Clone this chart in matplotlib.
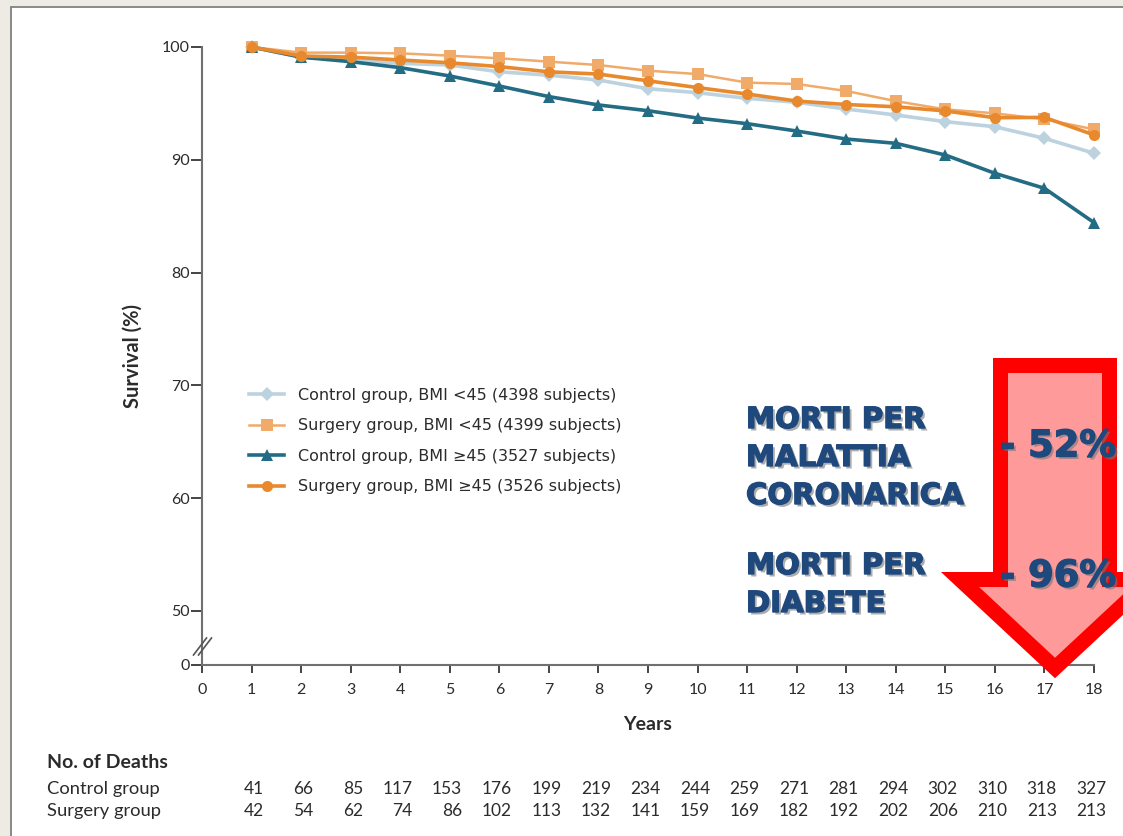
import matplotlib
matplotlib.use("Agg")
import matplotlib.pyplot as plt
import matplotlib.patches as patches
import matplotlib.patheffects as pe
from matplotlib.lines import Line2D
from matplotlib.transforms import blended_transform_factory, offset_copy

W, H = 1123, 836

years = list(range(1, 19))
ctrl_lo = [100, 99.1, 98.85, 98.55, 98.4, 97.8, 97.5, 97.07, 96.3, 95.95,
           95.45, 95.1, 94.5, 93.97, 93.38, 92.93, 91.9, 90.58]
surg_lo = [100, 99.5, 99.5, 99.44, 99.23, 99.0, 98.7, 98.4, 97.9, 97.6,
           96.84, 96.72, 96.1, 95.2, 94.47, 94.12, 93.59, 92.7]
ctrl_hi = [100, 99.1, 98.7, 98.17, 97.43, 96.54, 95.6, 94.86, 94.35, 93.7,
           93.2, 92.55, 91.84, 91.46, 90.42, 88.8, 87.47, 84.43]
surg_hi = [100, 99.2, 99.1, 98.85, 98.6, 98.26, 97.8, 97.6, 97.0, 96.4,
           95.83, 95.21, 94.9, 94.7, 94.33, 93.73, 93.76, 92.2]

series_labels = [
    "Control group, BMI <45 (4398 subjects)",
    "Surgery group, BMI <45 (4399 subjects)",
    "Control group, BMI \u226545 (3527 subjects)",
    "Surgery group, BMI \u226545 (3526 subjects)",
]

deaths_ctrl = [41, 66, 85, 117, 153, 176, 199, 219, 234, 244, 259, 271, 281,
               294, 302, 310, 318, 327]
deaths_surg = [42, 54, 62, 74, 86, 102, 113, 132, 141, 159, 169, 182, 192,
               202, 206, 210, 213, 213]

# y axis is broken: 0 sits just below 50
Y_ZERO = 45.2
yticks = [Y_ZERO, 50, 60, 70, 80, 90, 100]
ytick_labels = ["0", "50", "60", "70", "80", "90", "100"]

LATO = ["Lato", "DejaVu Sans"]
SPINE = "#707070"
TXT = "#2b2b2b"
NAVY = "#1F497D"


def fx(px):
    return px / W


def fy(py):
    return 1 - py / H


fig = plt.figure(figsize=(W / 100, H / 100), dpi=100)
fig.patch.set_facecolor("#EEEBE4")
fig.patches.append(patches.Rectangle((fx(11), -0.1), 1, fy(7) + 0.1, transform=fig.transFigure,
                                     facecolor="white", edgecolor="#808080",
                                     linewidth=1.3, zorder=-5))

ax = fig.add_axes([fx(202), fy(665), fx(1094) - fx(202), fy(47) - fy(665)])
ax.set_facecolor("none")
ax.set_xlim(0, 18)
ax.set_ylim(Y_ZERO, 100)

styles = [
    dict(color="#BCD2DE", marker="D", ms=7.5, lw=2.6),
    dict(color="#F0AA6A", marker="s", ms=8, lw=1.8),
    dict(color="#236C84", marker="^", ms=9, lw=2.6),
    dict(color="#E8892D", marker="o", ms=8, lw=2.6),
]
for vals, st, lab in zip([ctrl_lo, surg_lo, ctrl_hi, surg_hi], styles, series_labels):
    ax.plot(years, vals, color=st["color"], marker=st["marker"], markersize=st["ms"],
            linewidth=st["lw"], markeredgewidth=0, label=lab, clip_on=False, zorder=3)

for s in ["top", "right"]:
    ax.spines[s].set_visible(False)
for s in ["left", "bottom"]:
    ax.spines[s].set_color(SPINE)
    ax.spines[s].set_linewidth(1.5)

ax.set_xticks(range(0, 19))
ax.set_yticks(yticks)
ax.set_yticklabels(ytick_labels)
ax.tick_params(axis="y", length=8, width=1.4, color="#444444", pad=1,
               labelsize=11.5, labelcolor=TXT)
ax.tick_params(axis="x", length=6, width=1.4, color="#444444", pad=7,
               labelsize=11.5, labelcolor=TXT)
for lab in ax.get_xticklabels() + ax.get_yticklabels():
    lab.set_family(LATO)

# break marks on the y axis
for dx in (-2.5, 2.5):
    fig.add_artist(Line2D([fx(196 + dx), fx(209 + dx)], [fy(655), fy(638)],
                          transform=fig.transFigure, color="#555555", linewidth=1.2))

fig.text(fx(133), fy(356), "Survival (%)", rotation=90, ha="center", va="center",
         fontsize=14.5, fontweight="bold", family=LATO, color=TXT)
fig.text(fx(648), fy(724), "Years", ha="center", va="center", fontsize=14,
         fontweight="bold", family=LATO, color=TXT)

leg = ax.legend(loc="upper left", bbox_to_anchor=(fx(249), fy(388)),
                bbox_transform=fig.transFigure, frameon=False, handlelength=2.2,
                handletextpad=0.85, labelspacing=0.97, borderpad=0, borderaxespad=0,
                prop={"family": "DejaVu Sans", "size": 11.5})
for t in leg.get_texts():
    t.set_color(TXT)

# table of deaths
fig.text(fx(47), fy(763), "No. of Deaths", ha="left", va="center", fontsize=14,
         fontweight="bold", family=LATO, color=TXT)
row_y = [fy(789), fy(811)]
for name, vals, yy in zip(["Control group", "Surgery group"], [deaths_ctrl, deaths_surg], row_y):
    fig.text(fx(47), yy, name, ha="left", va="center", fontsize=13.2, family=LATO, color=TXT)
    trans = offset_copy(blended_transform_factory(ax.transData, fig.transFigure),
                        fig=fig, x=9, y=0, units="points")
    for k, v in zip(years, vals):
        ax.text(k, yy, str(v), transform=trans, ha="right", va="center", fontsize=12.5,
                family=LATO, color=TXT, clip_on=False)

# red arrow overlay
arrow_px = [(1000.5, 365.5), (1109.5, 365.5), (1109.5, 579.5), (1150, 579.5),
            (1055, 668), (960, 579.5), (1000.5, 579.5)]
fig.add_artist(patches.Polygon([(fx(x), fy(y)) for x, y in arrow_px], closed=True,
                               transform=fig.transFigure, facecolor="#FF9A9A",
                               edgecolor="#FF0000", linewidth=10.8, joinstyle="miter",
                               zorder=5))

shadow = [pe.SimplePatchShadow(offset=(1.8, -1.8), shadow_rgbFace="#777777", alpha=0.6),
          pe.Stroke(linewidth=1.0, foreground=NAVY), pe.Normal()]
overlay = [("MORTI PER", 420), ("MALATTIA", 458), ("CORONARICA", 496),
           ("MORTI PER", 566), ("DIABETE", 604)]
for txt, py in overlay:
    fig.text(fx(746), fy(py), txt, ha="left", va="center", fontsize=21,
             fontweight="bold", family="DejaVu Sans", color=NAVY, path_effects=shadow,
             zorder=6)
for txt, py in [("- 52%", 446), ("- 96%", 576)]:
    fig.text(fx(1000), fy(py), txt, ha="left", va="center", fontsize=26.5,
             fontweight="bold", family="DejaVu Sans", color=NAVY, path_effects=shadow,
             zorder=6)

fig.savefig("out.png", dpi=100, facecolor=fig.get_facecolor())
